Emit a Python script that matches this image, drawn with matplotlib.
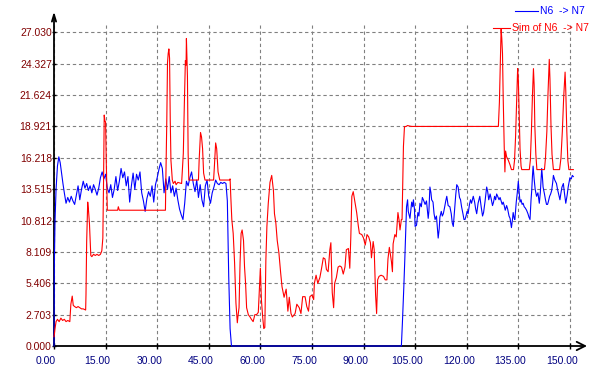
import numpy as np
import matplotlib
matplotlib.use('Agg')
import matplotlib.pyplot as plt
import matplotlib.transforms as mtransforms
from matplotlib.lines import Line2D

plt.rcParams['font.family'] = ['Liberation Sans', 'DejaVu Sans']

# measured series N6 -> N7 (blue)
blue_x = [0.0, 0.1, 0.3, 0.6, 1.0, 1.4, 1.8, 2.2, 2.6, 3.0, 3.5, 4.0, 4.5, 5.0, 5.5, 6.0, 6.5, 7.0,
          7.5, 8.0, 8.5, 9.0, 9.5, 10.0, 10.5, 11.0, 11.5, 12.0, 12.5, 13.0, 13.5, 14.0, 14.5, 15.0,
          15.5, 16.0, 16.5, 17.0, 17.5, 18.0, 18.5, 19.0, 19.5, 20.0, 20.5, 21.0, 21.5, 22.0, 22.5,
          23.0, 23.5, 24.0, 24.5, 25.0, 25.5, 26.0, 26.5, 27.0, 27.5, 28.0, 28.5, 29.0, 29.5, 30.0,
          30.5, 31.0, 31.5, 32.0, 32.5, 33.0, 33.5, 34.0, 34.5, 35.0, 35.5, 36.0, 36.5, 37.0, 37.5,
          38.0, 38.5, 39.0, 39.5, 40.0, 40.5, 41.0, 41.5, 42.0, 42.5, 43.0, 43.5, 44.0, 44.5, 45.0,
          45.5, 46.0, 46.5, 47.0, 47.5, 48.0, 48.5, 49.0, 49.5, 50.0, 50.4, 50.8, 51.2, 51.6,
          101.0, 101.3, 101.7, 102.0, 102.3, 102.5, 102.8, 103.0, 103.5, 104.0, 104.3, 104.5, 104.8,
          105.0, 105.4, 105.8, 106.1, 106.4, 106.8, 107.1, 107.4, 107.9, 108.3, 108.8, 109.0, 109.3,
          109.6, 109.8, 110.2, 110.5, 110.8, 111.2, 111.5, 111.7, 112.0, 112.2, 112.6, 112.9, 113.2,
          113.6, 113.9, 114.2, 114.6, 115.1, 115.5, 115.8, 116.1, 116.4, 116.8, 117.1, 117.5, 117.9,
          118.2, 118.5, 118.9, 119.2, 119.5, 119.8, 120.1, 120.4, 120.8, 121.1, 121.4, 121.9, 122.3,
          122.6, 122.9, 123.3, 123.8, 124.2, 124.6, 124.9, 125.3, 125.8, 126.1, 126.4, 126.8, 127.1,
          127.5, 127.8, 128.1, 128.4, 128.7, 129.0, 129.4, 129.7, 130.0, 130.3, 130.6, 130.9, 131.2,
          131.6, 131.9, 132.3, 132.6, 133.0, 133.3, 133.5, 133.8, 134.0, 134.4, 134.7, 135.0, 135.2,
          135.5, 135.8, 136.1, 136.4, 136.7, 137.0, 137.4, 137.8, 138.1, 138.4, 138.7, 138.9, 139.1,
          139.3, 139.6, 139.9, 140.3, 140.7, 141.1, 141.4, 141.8, 142.0, 142.2, 142.6, 142.9, 143.2,
          143.5, 143.7, 144.1, 144.4, 144.7, 145.0, 145.2, 145.6, 146.1, 146.4, 146.8, 147.1, 147.4,
          147.7, 148.1, 148.4, 148.8, 149.2, 149.5, 150.0, 150.4, 150.7, 151.0]
blue_y = [0.0, 7.0, 10.8, 13.5, 15.5, 16.3, 15.8, 14.9, 14.0, 13.2, 12.3, 12.8, 12.4, 12.9, 12.5, 12.2,
          13.0, 13.8, 12.6, 13.5, 14.2, 13.6, 14.0, 13.4, 13.8, 13.2, 13.9, 13.5, 13.0, 13.6, 14.5,
          15.0, 14.4, 14.8, 13.6, 13.2, 13.9, 12.8, 13.5, 14.6, 13.4, 14.2, 15.3, 14.5, 15.0, 13.8,
          14.6, 12.4, 13.8, 14.9, 13.5, 14.8, 14.3, 15.0, 13.2, 12.5, 11.6, 12.7, 13.3, 12.9, 13.8,
          12.4, 13.9, 14.5, 15.2, 15.8, 15.3, 13.2, 14.4, 13.5, 14.6, 13.2, 13.8, 12.9, 13.6, 12.6,
          11.8, 11.3, 10.9, 12.3, 14.2, 13.8, 14.5, 15.0, 14.0, 13.3, 14.3, 12.8, 13.9, 12.6, 12.0,
          13.8, 14.3, 12.9, 12.3, 13.2, 13.7, 14.3, 14.0, 13.9, 14.1, 14.0, 14.1, 14.0, 12.5, 6.0,
          1.5, 0.0,
          0.0, 2.0, 5.0, 7.5, 10.3, 12.0, 12.6, 11.6, 11.0, 12.4, 12.0, 12.6, 11.8, 10.3, 10.4, 11.5,
          11.2, 12.3, 12.0, 12.8, 12.6, 12.2, 12.5, 11.0, 11.6, 13.7, 13.2, 12.6, 12.4, 11.4, 10.9,
          11.2, 10.0, 9.3, 10.1, 11.1, 11.6, 11.2, 11.4, 12.0, 12.5, 12.9, 12.1, 12.0, 11.4, 10.6,
          10.3, 11.5, 13.0, 13.9, 13.7, 12.8, 12.6, 12.0, 11.4, 10.9, 10.9, 11.2, 11.6, 11.4, 12.2,
          12.6, 12.3, 12.9, 12.4, 11.8, 11.4, 12.3, 12.9, 12.0, 11.2, 11.5, 12.4, 13.7, 13.3, 12.6,
          13.1, 12.7, 12.1, 12.4, 12.9, 12.6, 13.1, 12.9, 12.6, 12.8, 12.5, 12.2, 12.4, 12.1, 11.7,
          12.1, 11.8, 11.2, 11.0, 10.2, 10.9, 11.5, 11.0, 10.9, 12.4, 13.2, 14.2, 13.4, 12.4, 12.6,
          12.2, 12.3, 12.0, 11.9, 11.7, 11.4, 11.1, 10.9, 12.6, 13.4, 14.6, 15.5, 14.4, 13.5, 12.9,
          13.2, 12.3, 13.2, 15.3, 14.6, 13.7, 13.1, 12.6, 12.2, 12.2, 12.4, 12.9, 13.1, 13.4, 14.1,
          14.7, 14.3, 14.0, 13.5, 13.0, 12.6, 13.2, 13.7, 14.0, 13.2, 12.3, 13.0, 13.7, 14.5, 14.4,
          14.7, 14.6]

# simulated series (red)
red_x = [0.0, 0.1, 0.3, 0.6, 1.0, 1.5, 2.0, 2.5, 3.0, 3.5, 4.0, 4.6, 4.7, 4.9, 5.3, 5.6, 6.0, 6.5,
         7.0, 7.5, 8.0, 8.5, 9.2, 9.3, 9.5, 9.8, 10.0, 10.3, 10.7, 11.0, 11.5, 12.0, 12.5, 13.0,
         13.5, 13.9, 14.2, 14.4, 14.6, 14.8, 15.0, 15.2, 15.5, 18.5, 18.7, 19.0, 32.4, 32.5, 32.8,
         33.0, 33.2, 33.4, 33.6, 33.8, 34.0, 34.4, 34.7, 35.2, 35.5, 36.0, 37.1, 37.6, 37.9, 38.2,
         38.4, 38.5, 38.8, 39.0, 39.2, 42.0, 42.2, 42.6, 42.9, 43.2, 43.5, 43.9, 46.4, 46.6, 47.0,
         47.3, 47.7, 48.2, 51.0, 51.2, 51.4, 51.7, 52.1, 52.5, 52.9, 53.3, 53.5, 53.8, 54.1, 54.4,
         54.7, 55.1, 55.4, 55.7, 56.0, 56.5, 57.0, 57.4, 57.9, 58.4, 58.9, 59.4, 59.7, 60.0, 60.3,
         60.7, 61.0, 61.3, 61.6, 61.9, 62.3, 62.8, 63.3, 63.8, 64.1, 64.5, 64.9, 65.4, 65.9, 66.3,
         66.9, 67.5, 68.0, 68.4, 68.9, 69.3, 70.1, 70.6, 71.3, 71.8, 72.3, 73.0, 73.5, 74.0, 74.4,
         75.0, 75.5, 75.7, 76.2, 76.7, 77.3, 77.8, 78.3, 78.8, 79.2, 79.7, 80.2, 80.5, 80.9, 81.3,
         81.6, 82.1, 82.6, 83.1, 83.6, 84.1, 84.6, 85.0, 85.6, 86.0, 86.3, 86.6, 87.0, 87.5, 88.0,
         88.5, 88.8, 89.5, 90.0, 90.5, 91.0, 91.5, 92.0, 92.3, 92.8, 93.1, 93.5, 93.8, 94.1, 94.5,
         95.1, 95.8, 96.3, 96.8, 97.1, 97.5, 98.1, 98.4, 98.6, 99.1, 99.5, 100.0, 100.3, 100.6,
         101.0, 101.2, 101.4, 101.6, 101.9, 102.4, 102.8, 103.4, 104.0, 129.2, 129.5, 129.8, 130.0,
         130.2, 130.4, 130.6, 130.9, 131.1, 131.3, 131.6, 132.1, 132.6, 133.0, 133.6, 133.9, 134.2,
         134.5, 134.8, 135.0, 135.2, 135.5, 135.8, 136.0, 138.2, 138.5, 138.8, 139.1, 139.4, 139.6,
         139.8, 140.1, 140.4, 142.6, 142.9, 143.3, 143.6, 144.0, 144.2, 144.5, 144.8, 145.2, 147.0,
         147.4, 147.8, 148.2, 148.6, 148.8, 149.1, 149.4, 149.7, 151.0]
red_y = [0.8, 1.0, 1.5, 2.1, 2.3, 2.1, 2.4, 2.2, 2.3, 2.1, 2.2, 2.1, 2.6, 3.6, 4.3, 3.5, 3.4, 3.3,
         3.4, 3.3, 3.2, 3.2, 3.1, 4.4, 9.0, 12.4, 11.8, 10.6, 7.8, 7.7, 7.9, 7.8, 7.9, 7.8, 7.9, 8.2,
         9.3, 14.0, 19.9, 19.4, 19.3, 15.8, 11.7, 11.7, 12.0, 11.7, 11.7, 14.0, 19.5, 24.4, 25.2,
         25.6, 24.8, 19.5, 16.0, 14.3, 14.0, 14.2, 13.9, 14.1, 14.0, 16.6, 20.9, 24.6, 24.2, 26.5,
         23.2, 16.6, 14.3, 14.3, 16.0, 18.4, 18.0, 17.0, 14.9, 14.3, 14.3, 15.3, 17.5, 17.0, 15.0,
         14.3, 14.3, 14.4, 12.9, 10.9, 9.7, 7.2, 3.7, 2.0, 2.6, 3.3, 7.2, 9.7, 10.0, 9.1, 6.8, 5.4,
         3.3, 2.7, 2.5, 2.3, 2.1, 2.7, 2.7, 2.9, 4.8, 6.7, 4.0, 2.4, 1.5, 1.6, 7.4, 10.3, 12.3,
         14.1, 14.7, 13.4, 11.4, 10.6, 9.1, 8.0, 6.3, 5.1, 4.2, 4.9, 3.0, 4.2, 2.8, 2.5, 2.8, 3.6,
         3.3, 2.8, 4.25, 4.25, 3.4, 3.0, 4.25, 4.4, 4.0, 5.4, 6.1, 5.4, 5.9, 6.7, 7.6, 7.5, 6.6,
         6.4, 8.3, 8.9, 4.6, 3.3, 5.4, 5.9, 6.8, 6.9, 6.8, 6.2, 6.8, 8.3, 8.4, 6.7, 9.4, 12.9,
         13.3, 12.4, 11.5, 10.3, 9.7, 9.6, 9.3, 8.7, 9.6, 9.4, 8.9, 7.6, 9.0, 8.3, 4.4, 2.8, 5.7,
         6.0, 6.1, 6.0, 5.7, 5.7, 7.5, 8.5, 7.3, 6.4, 8.8, 9.6, 9.4, 11.5, 10.9, 10.0, 10.9, 10.9,
         14.0, 17.2, 18.9, 18.92, 19.0, 18.95, 18.92, 18.92, 21.0, 25.0, 27.3, 26.5, 25.2, 21.5,
         17.2, 15.0, 16.8, 16.3, 16.0, 15.6, 15.2, 15.2, 16.0, 18.0, 21.0, 23.9, 23.0, 20.5, 17.0,
         15.5, 15.2, 15.2, 16.0, 18.4, 21.5, 23.9, 22.5, 19.0, 16.5, 15.2, 15.2, 16.2, 18.5, 21.5,
         24.7, 23.0, 19.0, 16.5, 15.2, 15.2, 16.2, 18.5, 21.5, 23.6, 22.0, 18.5, 16.0, 15.2, 15.2]

y_ticks = [0.000, 2.703, 5.406, 8.109, 10.812, 13.515, 16.218, 18.921, 21.624, 24.327, 27.030]
x_ticks = [0, 15, 30, 45, 60, 75, 90, 105, 120, 135, 150]
series_names = ['N6  -> N7', 'Sim of N6  -> N7']

W, H = 614, 381
fig = plt.figure(figsize=(W / 100, H / 100), dpi=100)
ax = fig.add_axes([54 / W, 35 / H, 519 / W, 321 / H])

ax.set_xlim(0, 150.9)
ax.set_ylim(0, 27.66)

ax.plot(blue_x, blue_y, color='#0000ff', lw=0.8, clip_on=False, zorder=5)
ax.plot(red_x, red_y, color='#ff0000', lw=0.8, clip_on=False, zorder=6)

ax.set_xticks(x_ticks)
ax.set_xticklabels(['%.2f' % v for v in x_ticks])
ax.set_yticks(y_ticks)
ax.set_yticklabels(['%.3f' % v for v in y_ticks])

ax.grid(True, color='#808080', lw=0.8, linestyle=(0, (3, 2.5)))
ax.set_axisbelow(True)

for s in ax.spines.values():
    s.set_visible(False)

ax.tick_params(axis='x', direction='inout', length=5, width=1, colors='black',
               labelcolor='#000080', labelsize=7.5, pad=5)
ax.tick_params(axis='y', direction='inout', length=3, width=1, colors='black',
               labelcolor='#800000', labelsize=7.5, pad=0)

shift = mtransforms.ScaledTranslation(-8 / 100, 0, fig.dpi_scale_trans)
for lab in ax.get_xticklabels():
    lab.set_transform(lab.get_transform() + shift)

# axis lines with open arrow heads
ax.annotate('', xy=(0, 1.042), xytext=(0, 0), xycoords='axes fraction',
            arrowprops=dict(arrowstyle='->,head_length=0.5,head_width=0.15', lw=1.3,
                            color='black', shrinkA=0, shrinkB=0),
            annotation_clip=False, zorder=4)
ax.annotate('', xy=(1.027, 0), xytext=(0, 0), xycoords='axes fraction',
            arrowprops=dict(arrowstyle='->,head_length=0.6,head_width=0.3', lw=1.3,
                            color='black', shrinkA=0, shrinkB=0),
            annotation_clip=False, zorder=4)

# legend, top right
fig.add_artist(Line2D([515 / W, 538 / W], [1 - 11 / H, 1 - 11 / H], color='#0000ff', lw=0.8))
fig.text(540 / W, 1 - 11 / H, series_names[0], color='#0000ff', fontsize=7.5,
         ha='left', va='center')
fig.add_artist(Line2D([493 / W, 510 / W], [1 - 28 / H, 1 - 28 / H], color='#ff0000', lw=0.8))
fig.text(512 / W, 1 - 28 / H, series_names[1], color='#ff0000', fontsize=7.5,
         ha='left', va='center')

fig.savefig('out.png', dpi=100)
